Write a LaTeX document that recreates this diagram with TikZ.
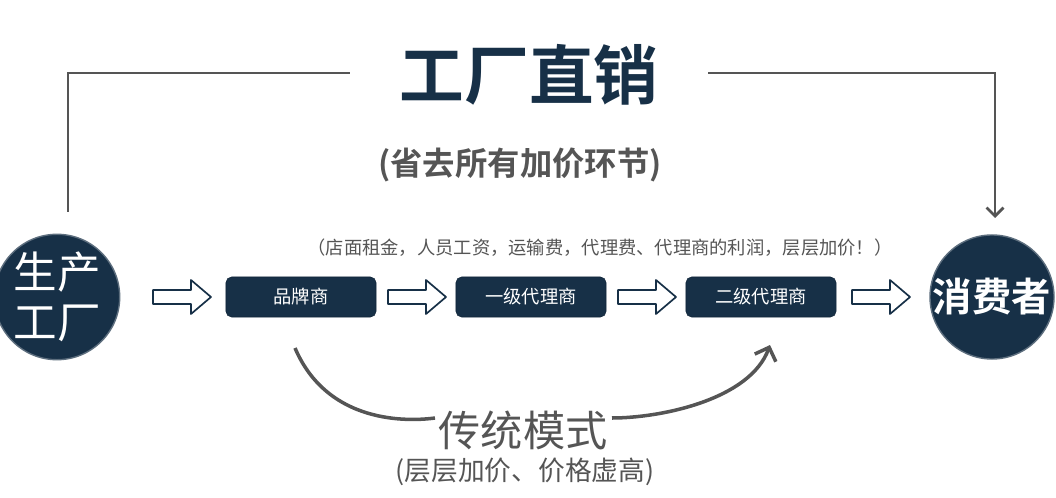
\documentclass[tikz,border=0pt]{standalone}
\usepackage{fontspec}
\newfontfamily\cjk{Noto Sans CJK SC}
\newfontfamily\cjkb{Noto Sans CJK SC Bold}
\usetikzlibrary{arrows.meta}
\definecolor{navy}{HTML}{173047}
\definecolor{linegray}{HTML}{555555}
\begin{document}
\begin{tikzpicture}[x=0.025cm, y=-0.025cm,
    stage/.style={rectangle, rounded corners=4pt, fill=navy, draw=navy!80!black, minimum width=3.75cm, minimum height=1cm, text=white, font=\cjk\fontsize{13}{13}\selectfont},
    ending/.style={circle, fill=navy, draw=navy!70!white, line width=1pt, text=white, align=center, inner sep=0pt}
]
    \useasboundingbox (0,0) rectangle (1056,498);

    \node[ending, minimum size=2.8cm, font=\cjk\fontsize{31}{36}\selectfont] (factory) at (57,297) {生产\\工厂};
    \node[ending, minimum size=3.1cm, font=\cjkb\fontsize{28}{28}\selectfont] (buyer) at (992,297) {消费者};

    \node[stage] (brand) at (301,297) {品牌商};
    \node[stage] (agent1) at (531,297) {一级代理商};
    \node[stage] (agent2) at (761,297) {二级代理商};

    % hollow arrows between stages
    \foreach \x in {153,388,618,852} {
        \draw[draw=navy, line width=1.2pt, fill=white, line join=round]
            (\x,290) -- (\x+38,290) -- (\x+38,280) -- (\x+58,297) -- (\x+38,314) -- (\x+38,304) -- (\x,304) -- cycle;
    }

    % direct route
    \node[font=\cjkb\fontsize{46}{46}\selectfont, text=navy] (direct) at (529,75) {工厂直销};
    \node[font=\cjkb\fontsize{23}{23}\selectfont, text=linegray] (skip) at (520,165) {(省去所有加价环节)};
    \coordinate (lcorner) at (68,73);
    \coordinate (rcorner) at (995,73);
    \draw[linegray, line width=2pt] (68,212) -- (lcorner) -- (350,73);
    \draw[linegray, line width=2pt, -{Straight Barb[length=6pt,width=12pt]}] (708,73) -- (rcorner) -- (995,218);

    \node[font=\cjk\fontsize{13}{13}\selectfont, text=linegray] (costs) at (600,248) {（店面租金，人员工资，运输费，代理费、代理商的利润，层层加价！）};

    % traditional route
    \draw[linegray, line width=2.5pt, -{Straight Barb[length=8pt,width=16pt]}]
        (295,348) .. controls (330,430) and (420,420) .. (435,418)
        (612,418) .. controls (660,418) and (750,400) .. (770,345);
    \node[font=\cjk\fontsize{30}{30}\selectfont, text=linegray] (trad) at (523,430) {传统模式};
    \node[font=\cjk\fontsize{19}{19}\selectfont, text=linegray] (markup) at (525,472) {(层层加价、价格虚高)};
\end{tikzpicture}
\end{document}
